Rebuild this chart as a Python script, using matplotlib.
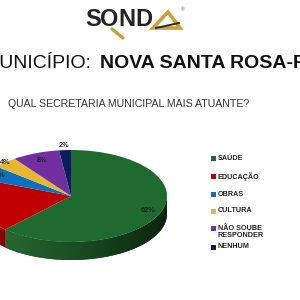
import numpy as np
import matplotlib
matplotlib.use("Agg")
import matplotlib.pyplot as plt
from matplotlib.patches import Polygon, Rectangle
from matplotlib.colors import LinearSegmentedColormap

# ---- data ----
categories = ["SAÚDE", "EDUCAÇÃO", "OBRAS", "CULTURA", "NÃO SOUBE\nRESPONDER", "NENHUM"]
values = [62, 19, 5, 4, 8, 2]
pct_labels = ["62%", "19%", "5%", "4%", "8%", "2%"]
colors = ["#1f6a2e", "#c00000", "#0a70c0", "#e6b832", "#7030a0", "#0c1e5a"]
wall_colors = ["#164d21", "#860000", "#064e88", "#a58020", "#4e2070", "#081440"]
label_dist = [0.86, 0.95, 0.86, 1.0, 0.83, 1.10]

title_regular = "MUNICÍPIO:"
title_bold = "NOVA SANTA ROSA-PR"
question = "QUAL SECRETARIA MUNICIPAL MAIS ATUANTE?"
logo_letters = ["S", "O", "N", "D"]

plt.rcParams['font.family'] = ['Liberation Sans', 'DejaVu Sans']

W = H = 300
fig = plt.figure(figsize=(3, 3), dpi=100)
fig.patch.set_facecolor("white")

def fx(px):
    return px / W

def fy(py):
    return 1 - py / H

# ---- logo ----
for letter, px in zip(logo_letters, [85, 100, 118, 135]):
    fig.text(fx(px), fy(20), letter, fontsize=17, fontweight="bold", color="#232323",
             va="center", ha="left")
fig.add_artist(plt.Line2D([fx(112), fx(123)], [fy(29), fy(38)], color="#c9a03a", lw=2.4,
                          solid_capstyle="round"))
fig.add_artist(Polygon([[fx(153), fy(28)], [fx(168), fy(12)], [fx(180), fy(28)]], closed=True,
                       facecolor="none", edgecolor="#c9a03a", lw=2.6,
                       transform=fig.transFigure))
fig.add_artist(plt.Line2D([fx(156), fx(179)], [fy(28), fy(23)], color="#2b2b2b", lw=1.4))
fig.text(fx(181), fy(10), "®", fontsize=3.5, color="#555555", va="center", ha="left")

# ---- titles ----
fig.text(fx(91), fy(64), title_regular, fontsize=14.0, color="#111111", va="center", ha="right")
fig.text(fx(100), fy(64), title_bold, fontsize=14.0, fontweight="bold", color="#111111",
         va="center", ha="left")
fig.text(fx(8), fy(104), question, fontsize=7.6, color="#333333", va="center", ha="left")

# ---- pie axes (pixel-mapped, squashed) ----
cx, cy, rx, ry, depth_px = 71, 196, 96, 46, 18
ax = fig.add_axes([0, 0, 1, 1])
wedges, _ = ax.pie(values, colors=colors, startangle=90, counterclock=False,
                   radius=1, center=(0, 0), wedgeprops=dict(linewidth=0), normalize=True)
for w in wedges:
    w.set_zorder(3)
ax.set_aspect("auto")
ax.axis("off")

d = depth_px / ry
green_cmap = LinearSegmentedColormap.from_list("g", ["#2f7038", "#1b5024", "#0b2410"])

for i, w in enumerate(wedges):
    t1, t2 = sorted([w.theta1, w.theta2])
    for k in (-360, 0, 360):
        a = max(t1, 180 + k)
        b = min(t2, 360 + k)
        if b > a:
            th = np.radians(np.linspace(a, b, 80))
            top = np.column_stack([np.cos(th), np.sin(th)])
            bot = np.column_stack([np.cos(th[::-1]), np.sin(th[::-1]) - d])
            poly = Polygon(np.vstack([top, bot]), closed=True, facecolor=wall_colors[i],
                           edgecolor="none", zorder=2)
            ax.add_patch(poly)
            if i == 0:
                grad = np.linspace(0, 1, 256).reshape(1, -1)
                im = ax.imshow(grad, cmap=green_cmap, extent=(-1, 1, -1 - d, 0),
                               aspect="auto", zorder=2.5, interpolation="bilinear")
                im.set_clip_path(poly)

# percentage labels
for i, w in enumerate(wedges):
    mid = np.radians((w.theta1 + w.theta2) / 2)
    r = label_dist[i]
    ax.text(r * np.cos(mid), r * np.sin(mid), pct_labels[i], fontsize=5.3,
            fontweight="bold", color="#222222", ha="center", va="center", zorder=5)

ax.set_xlim((0 - cx) / rx, (W - cx) / rx)
ax.set_ylim((cy - H) / ry, cy / ry)

# ---- legend (manual layout) ----
legend_rows = [158, 176, 194, 211, 228, 247]
for w, label, py in zip(wedges, categories, legend_rows):
    fig.add_artist(Rectangle((fx(211), fy(py + 2.5)), 5 / W, 5 / H, transform=fig.transFigure,
                             facecolor=w.get_facecolor(), edgecolor="none"))
    fig.text(fx(218), fy(py - 3.5), label, fontsize=5.2, fontweight="bold", color="#222222",
             va="top", ha="left", linespacing=1.15)

fig.savefig("out.png", dpi=100, facecolor="white")
